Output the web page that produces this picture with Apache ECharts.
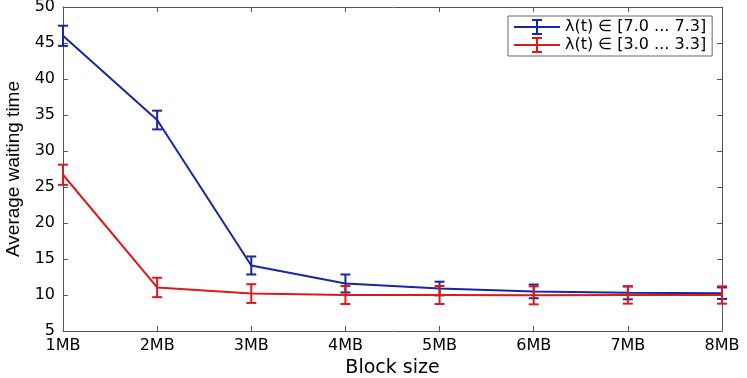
<html lang="en">
<head>
    <meta charset="UTF-8">
    <title>Average waiting time</title>
    <script src="https://cdn.jsdelivr.net/npm/echarts@6/dist/echarts.min.js"></script>
    <style>
        body { margin: 0; background: #fff; }
        #chart { width: 747px; height: 378px; }
    </style>
</head>
<body>
<div id="chart"></div>
<script type="text/javascript">
    // data
    var blocks = ['1MB', '2MB', '3MB', '4MB', '5MB', '6MB', '7MB', '8MB'];
    var highName = 'λ(t) ∈ [7.0 ... 7.3]';
    var highMean = [46.0, 34.3, 14.1, 11.6, 10.9, 10.5, 10.3, 10.25];
    var highErr = [1.4, 1.3, 1.25, 1.25, 0.95, 0.95, 0.9, 0.8];
    var lowName = 'λ(t) ∈ [3.0 ... 3.3]';
    var lowMean = [26.7, 11.05, 10.2, 10.0, 10.0, 9.95, 10.0, 10.0];
    var lowErr = [1.4, 1.35, 1.3, 1.25, 1.25, 1.25, 1.2, 1.2];

    var blue = '#1626a6';
    var red = '#dc1a1a';
    var font = 'DejaVu Sans';

    // legend icon: line with an error bar in the middle
    var errIcon = 'path://M0,7H46V9H0Z M22,1H24V15H22Z M18,0H28V2H18Z M18,14H28V16H18Z';

    function errData(mean, err) {
        var out = [];
        for (var i = 0; i < mean.length; i++) {
            out.push([i, mean[i] - err[i], mean[i] + err[i]]);
        }
        return out;
    }

    function errRender(color) {
        return function (params, api) {
            var lo = api.coord([api.value(0), api.value(1)]);
            var hi = api.coord([api.value(0), api.value(2)]);
            var cap = 5;
            var st = {stroke: color, lineWidth: 2};
            return {
                type: 'group',
                children: [
                    {type: 'line', shape: {x1: hi[0], y1: hi[1], x2: lo[0], y2: lo[1]}, style: st},
                    {type: 'line', shape: {x1: hi[0] - cap, y1: hi[1], x2: hi[0] + cap, y2: hi[1]}, style: st},
                    {type: 'line', shape: {x1: lo[0] - cap, y1: lo[1], x2: lo[0] + cap, y2: lo[1]}, style: st}
                ]
            };
        };
    }

    var axisLine = {lineStyle: {color: '#555', width: 1}};
    var tick = {inside: true, length: 5, lineStyle: {color: '#555'}};

    var myChart = echarts.init(document.getElementById('chart'));
    var option = {
        animation: false,
        backgroundColor: '#fff',
        grid: {left: 63, right: 25, top: 7, bottom: 47, outerBoundsMode: 'none'},
        legend: {
            orient: 'vertical',
            left: 508,
            top: 16,
            padding: [3, 6, 3, 6],
            itemGap: 2,
            itemWidth: 46,
            itemHeight: 16,
            borderColor: '#666',
            borderWidth: 1,
            backgroundColor: '#fff',
            textStyle: {fontFamily: font, fontSize: 16, color: '#000'},
            data: [
                {name: highName, icon: errIcon, itemStyle: {color: blue}},
                {name: lowName, icon: errIcon, itemStyle: {color: red}}
            ]
        },
        xAxis: [{
            type: 'category',
            data: blocks,
            boundaryGap: false,
            position: 'bottom',
            axisLine: axisLine,
            axisTick: tick,
            axisLabel: {fontFamily: font, fontSize: 16, color: '#000', margin: 7},
            name: 'Block size',
            nameLocation: 'middle',
            nameGap: 27,
            nameTextStyle: {fontFamily: font, fontSize: 19, color: '#000'}
        }, {
            type: 'category',
            data: blocks,
            boundaryGap: false,
            position: 'top',
            axisLine: axisLine,
            axisTick: tick,
            axisLabel: {show: false}
        }],
        yAxis: [{
            type: 'value',
            min: 5,
            max: 50,
            interval: 5,
            position: 'left',
            axisLine: {show: true, lineStyle: {color: '#555', width: 1}},
            axisTick: {show: true, inside: true, length: 5, lineStyle: {color: '#555'}},
            splitLine: {show: false},
            axisLabel: {fontFamily: font, fontSize: 16, color: '#000', margin: 8},
            name: 'Average waiting time',
            nameLocation: 'middle',
            nameGap: 40,
            nameTextStyle: {fontFamily: 'Liberation Sans', fontSize: 19, color: '#000'}
        }, {
            type: 'value',
            min: 5,
            max: 50,
            interval: 5,
            position: 'right',
            axisLine: {show: true, lineStyle: {color: '#555', width: 1}},
            axisTick: {show: true, inside: true, length: 5, lineStyle: {color: '#555'}},
            splitLine: {show: false},
            axisLabel: {show: false}
        }],
        series: [
            {
                name: highName,
                type: 'line',
                data: highMean,
                symbol: 'none',
                lineStyle: {color: blue, width: 2},
                itemStyle: {color: blue},
                z: 3
            },
            {
                name: lowName,
                type: 'line',
                data: lowMean,
                symbol: 'none',
                lineStyle: {color: red, width: 2},
                itemStyle: {color: red},
                z: 4
            },
            {
                type: 'custom',
                renderItem: errRender(blue),
                data: errData(highMean, highErr),
                encode: {x: 0, y: [1, 2]},
                z: 3
            },
            {
                type: 'custom',
                renderItem: errRender(red),
                data: errData(lowMean, lowErr),
                encode: {x: 0, y: [1, 2]},
                z: 4
            }
        ]
    };
    myChart.setOption(option);
</script>
</body>
</html>
